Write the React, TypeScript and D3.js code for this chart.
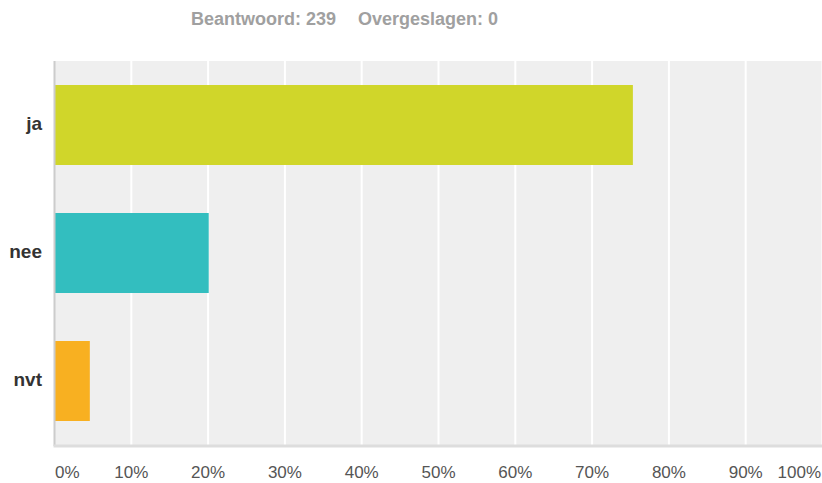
import React from "react";
import * as d3 from "d3";

const categories = ["ja", "nee", "nvt"];
const values = [75.31, 20.08, 4.6];
const colors = ["#d0d62a", "#33bebf", "#f8b021"];
const ticks = [0, 10, 20, 30, 40, 50, 60, 70, 80, 90, 100];
const answered = 239;
const skipped = 0;

export default function App() {
  const W = 822, H = 483;
  const left = 54.5, right = 822.5, top = 61, bottom = 445;
  const x = d3.scaleLinear().domain([0, 100]).range([left, right]);
  const y = d3.scaleBand().domain(categories).range([top, bottom]).paddingInner(0.375).paddingOuter(0.1875);
  const font = "'Liberation Sans', Arial, sans-serif";
  return (
    <svg width={W} height={H} style={{ position: "absolute", left: 0, top: 0 }} fontFamily={font}>
      <rect x={0} y={0} width={W} height={H} fill="#fff" />
      <text x={191} y={25} fontSize={18} fontWeight="bold" fill="#a0a0a0">{`Beantwoord: ${answered}`}</text>
      <text x={358} y={25} fontSize={18} fontWeight="bold" fill="#a0a0a0">{`Overgeslagen: ${skipped}`}</text>
      <rect x={left} y={top} width={W - left} height={bottom - top} fill="#efefef" />
      {ticks.slice(1).map((t) => (
        <line key={t} x1={x(t)} x2={x(t)} y1={top} y2={bottom} stroke="#fff" strokeWidth={2} />
      ))}
      {categories.map((c, i) => (
        <rect key={c} x={x(0)} y={y(c)} width={x(values[i]) - x(0)} height={y.bandwidth()} fill={colors[i]} />
      ))}
      <line x1={left} x2={left} y1={top} y2={bottom + 1} stroke="#cccccc" strokeWidth={2} />
      <line x1={left - 1} x2={W} y1={bottom + 1} y2={bottom + 1} stroke="#dddddd" strokeWidth={3} />
      {categories.map((c) => (
        <text key={c} x={42} y={(y(c) as number) + y.bandwidth() / 2 + 5} textAnchor="end" fontSize={19} fontWeight="bold" fill="#333">{c}</text>
      ))}
      {ticks.map((t, i) => {
        const anchor = i === 0 ? "start" : i === ticks.length - 1 ? "end" : "middle";
        const px = i === 0 ? x(t) + 0.5 : i === ticks.length - 1 ? W - 1 : x(t);
        return (
          <text key={t} x={px} y={478} textAnchor={anchor} fontSize={17} fill="#555">{`${t}%`}</text>
        );
      })}
    </svg>
  );
}
